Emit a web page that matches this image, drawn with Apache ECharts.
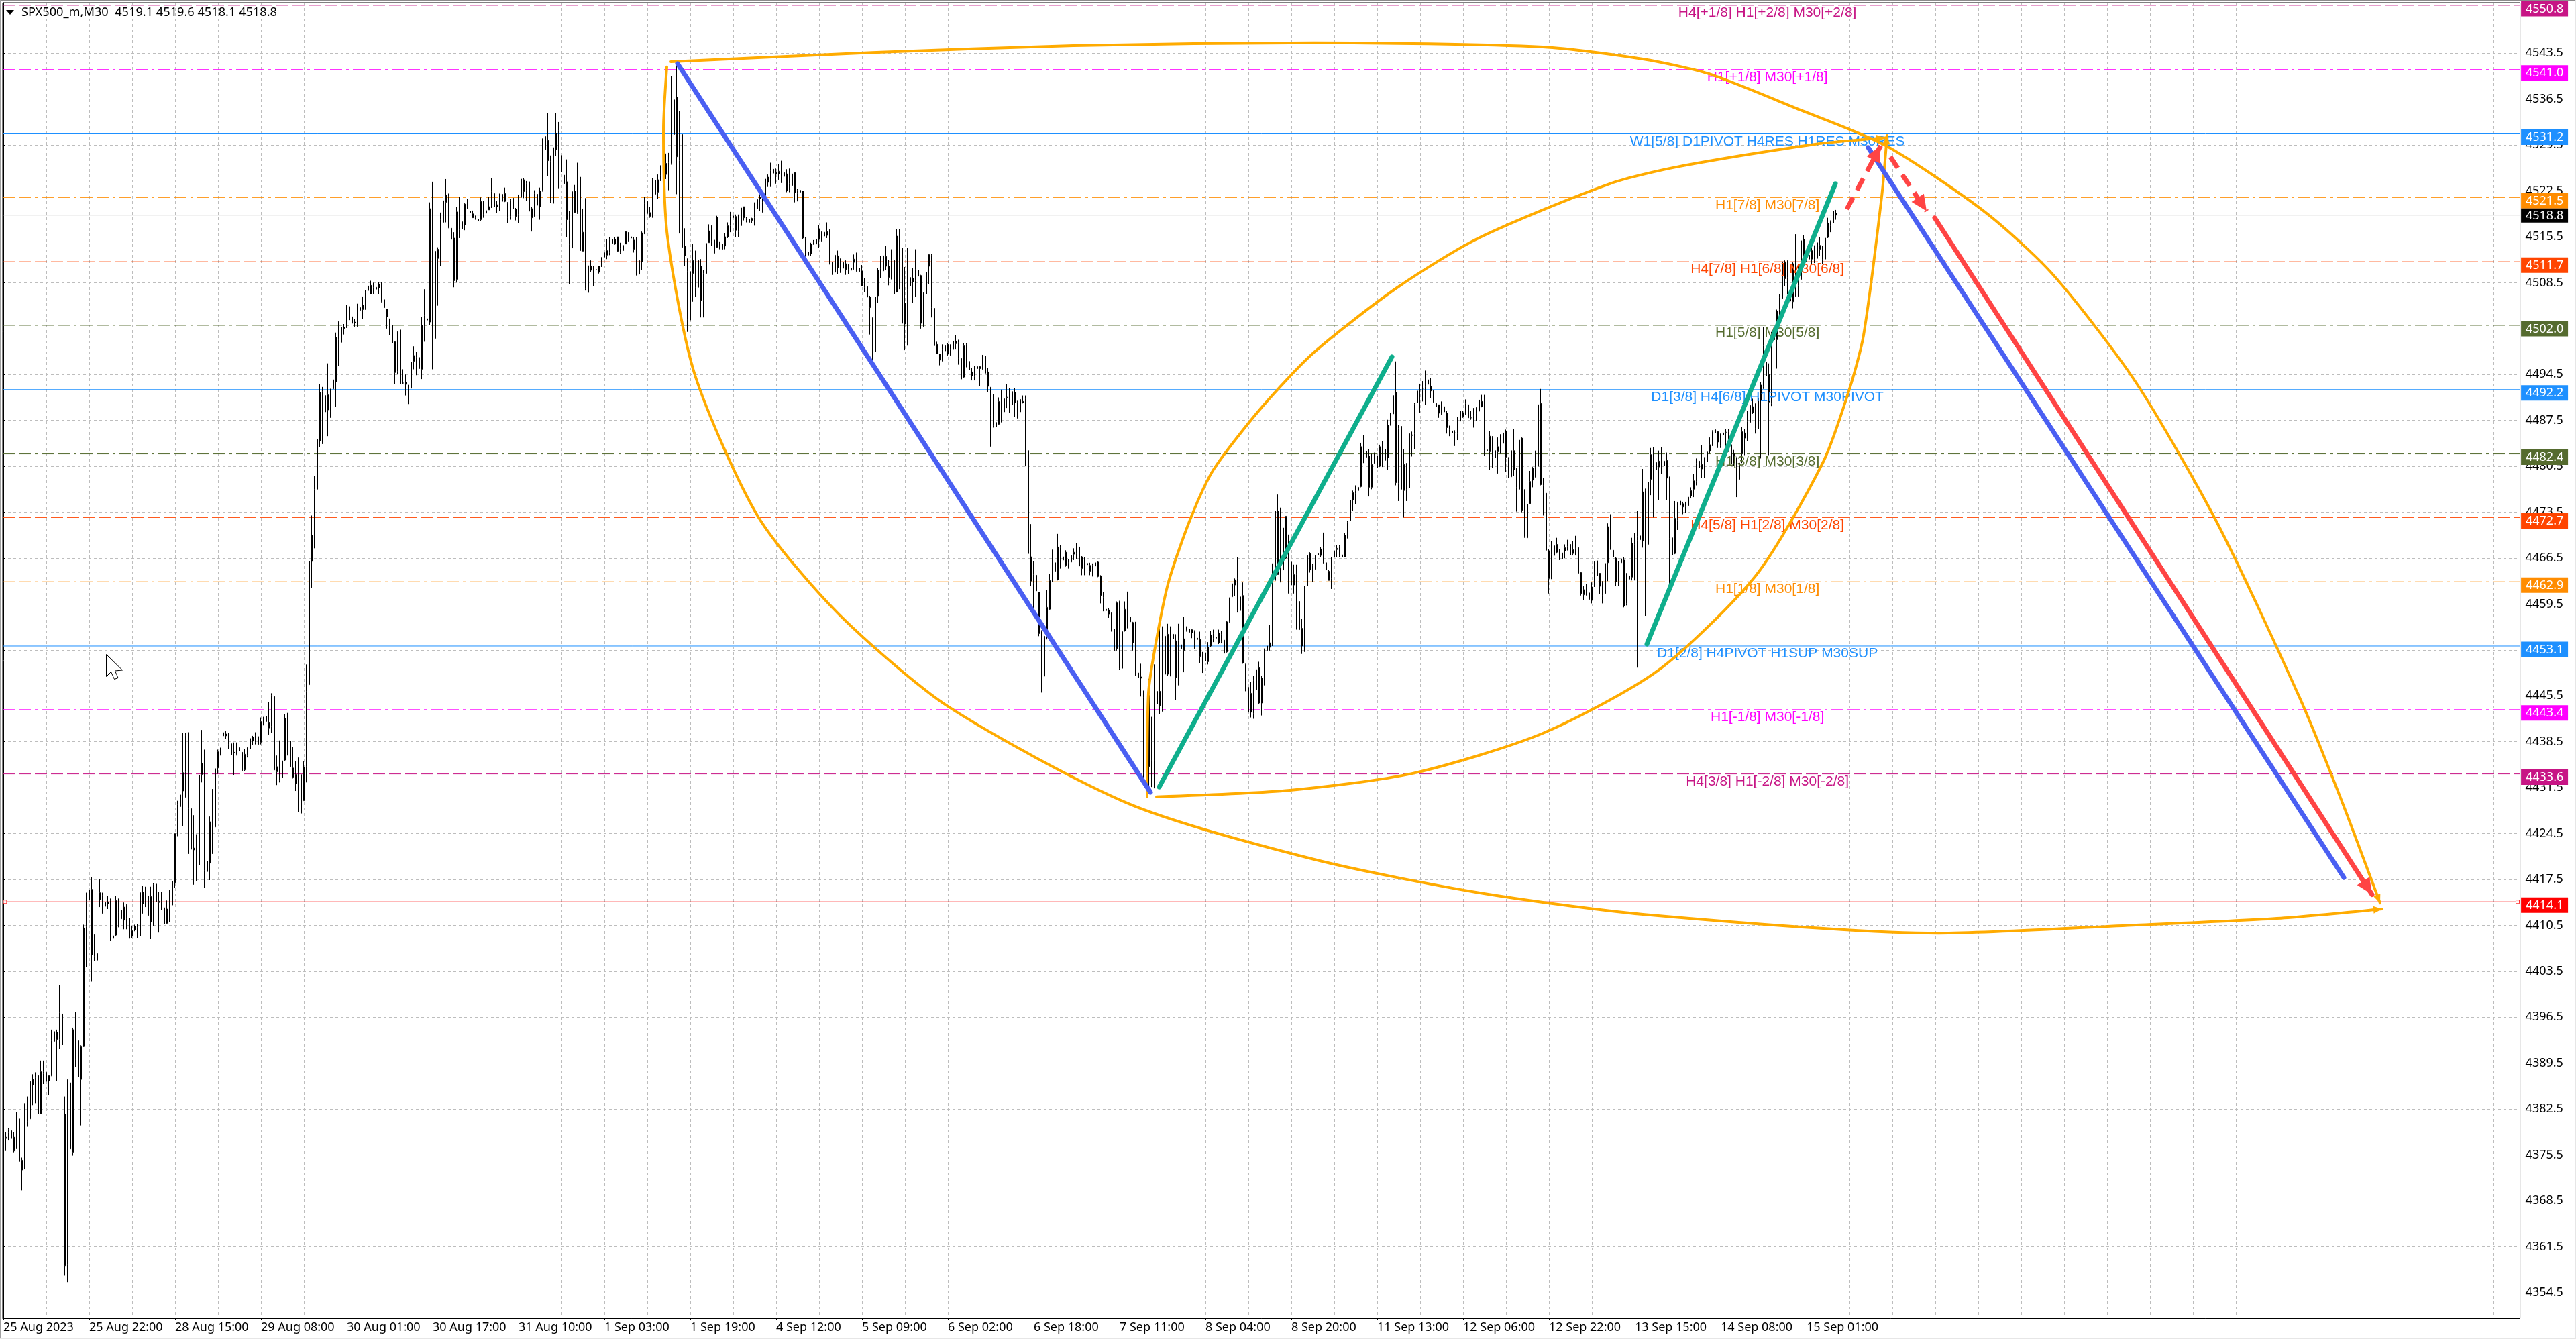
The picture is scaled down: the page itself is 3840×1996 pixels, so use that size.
<!DOCTYPE html>
<html>
<head>
<meta charset="utf-8">
<title>SPX500_m,M30</title>
<script src="https://cdn.jsdelivr.net/npm/echarts@6/dist/echarts.min.js"></script>
<style>
html,body{margin:0;padding:0;background:#fff;overflow:hidden}
#chart{width:3840px;height:1996px}
</style>
</head>
<body>
<div id="chart"></div>
<script>
const headerText = 'SPX500_m,M30  4519.1 4519.6 4518.1 4518.8'

const timeLabels = ['25 Aug 2023','25 Aug 22:00','28 Aug 15:00','29 Aug 08:00','30 Aug 01:00','30 Aug 17:00','31 Aug 10:00','1 Sep 03:00','1 Sep 19:00','4 Sep 12:00','5 Sep 09:00','6 Sep 02:00','6 Sep 18:00','7 Sep 11:00','8 Sep 04:00','8 Sep 20:00','11 Sep 13:00','12 Sep 06:00','12 Sep 22:00','13 Sep 15:00','14 Sep 08:00','15 Sep 01:00']

const priceTicks = [4354.5,4361.5,4368.5,4375.5,4382.5,4389.5,4396.5,4403.5,4410.5,4417.5,4424.5,4431.5,4438.5,4445.5,4452.5,4459.5,4466.5,4473.5,4480.5,4487.5,4494.5,4501.5,4508.5,4515.5,4522.5,4529.5,4536.5,4543.5]

const barOpen = [
4379.5,4378,4378.9,4379.2,4378.2,4376.5,4381,4374.7,4373.4,4382.7,
4381,4387,4386.4,4387.6,4381.8,4387.9,4388.1,4386.8,4387.6,4392.8,
4394.2,4393.1,4397,4381.7,4358.8,4386.5,4375.9,4394.8,4392.9,4387,
4392.1,4410.3,4414.4,4416,4406,4406.2,4414.4,4415.1,4414,4413.8,
4414.3,4408.6,4409,4414.4,4412.8,4411.3,4413.6,4411.6,4408.9,4409.8,
4410.2,4408.9,4415.6,4415.6,4412,4414.9,4410.4,4416.8,4414,4414.2,
4413.2,4410.8,4413,4413.6,4417,4424.6,4428.6,4431,4433.9,4439.7,
4428.3,4422,4422.2,4419.7,4433.5,4435.3,4418.7,4420,4426.5,4425.5,
4434.5,4436.8,4439.4,4439.7,4439.7,4438.2,4436.9,4436.6,4437.6,4436.9,
4434.2,4436.4,4437.4,4439.2,4438.4,4439.3,4438.4,4441.5,4442.4,4441.4,
4440.9,4445.4,4433.9,4434.6,4433,4435.7,4442.4,4438.6,4434.5,4433.5,
4432.4,4427.6,4429.5,4434.7,4447.2,4466,4470,4477,4484.4,4491.9,
4488.8,4491.4,4488.9,4492.3,4493.4,4499.9,4499.4,4501.5,4501.7,4504.5,
4503.3,4502.5,4502.2,4504.7,4504.4,4504.4,4507.3,4508.1,4506.9,4507.5,
4507.7,4508,4505.9,4504.5,4503,4502,4499.5,4495,4501.3,4493.2,
4493.3,4492.9,4492.4,4496.5,4497.1,4497.1,4495.3,4501.8,4502.8,4502.5,
4520,4500,4513.6,4512.3,4517.7,4520.75,4521.7,4516.8,4515.3,4509,
4519.4,4516.7,4517.3,4520.2,4519.4,4519,4518.7,4518.2,4518.1,4520.7,
4519.1,4519.6,4520.3,4522.1,4520.4,4520.3,4520.9,4522.1,4520.6,4518.6,
4521.4,4519.7,4518.9,4521.5,4524.2,4522.6,4523.9,4519.8,4518.6,4522,
4520.1,4522.6,4528.8,4530.2,4527,4520.6,4528.8,4531.7,4527.9,4524.9,
4523.9,4518,4513.8,4522.5,4519.2,4524.6,4513.3,4516.3,4507,4511,
4511,4510.5,4510.1,4511.4,4512.4,4512.7,4513.1,4515.1,4514.4,4515.5,
4513.7,4513.4,4514.4,4516.1,4515.5,4515,4513.5,4509.8,4511.7,4516,
4520.9,4518.6,4518.5,4524.1,4522.3,4524.2,4525,4526.7,4524.8,4526.7,
4531.1,4536.8,4527.1,4531.1,4514.1,4510.2,4502.8,4509.9,4511.9,4507.8,
4511,4505.8,4509.9,4514.6,4517.2,4515,4518.5,4513.8,4514.4,4514.1,
4515.5,4517.2,4518.4,4518.6,4516.3,4517.2,4520.1,4518.3,4517.7,4518.3,
4518.4,4519.8,4521.3,4521.6,4521.3,4524.6,4524.2,4525.8,4525.3,4525.1,
4525.1,4524.7,4525.1,4522.6,4523.3,4525.3,4522.1,4522.3,4522.5,4515.2,
4513.2,4512.9,4514.8,4514.4,4516.7,4515.6,4515.6,4515.7,4516.6,4511.3,
4510.1,4512.6,4510.7,4510.7,4511.4,4510.4,4510.7,4511.6,4512.3,4510.7,
4510.3,4508.3,4507.9,4506.3,4502.2,4498,4506.5,4510.6,4510.3,4512.5,
4511,4509.2,4511.9,4507.1,4515.6,4513.8,4502.2,4505.4,4508,4509.2,
4508.8,4510.4,4509.6,4502.7,4506.8,4511,4512.7,4504.6,4499.1,4497.6,
4496.7,4498.1,4499.1,4497.6,4498.4,4499.6,4499.4,4496.95,4494.1,4499.1,
4496.5,4494.9,4494.2,4495.7,4495.7,4495.3,4497.3,4494.9,4492.5,4488.8,
4486.5,4486.9,4490.2,4488.8,4491,4491.2,4489.9,4491.8,4490.3,4488.8,
4490.4,4490.8,4482.9,4466.7,4462.7,4463.9,4461.3,4455.3,4448.5,4454.6,
4458.7,4463.2,4465.8,4463.2,4468.1,4466.2,4467.4,4465.8,4465.9,4467.1,
4467.2,4468.2,4464.9,4466.5,4465.7,4465.4,4464.7,4465.3,4465.9,4463.8,
4460.5,4458.7,4458.6,4457.8,4455.7,4452.7,4459.9,4449.7,4455.4,4458.9,
4457.5,4456.7,4453.9,4449,4448.2,4445.3,4433.8,4434.7,4438.5,4435.7,
4444.3,4446.2,4443.5,4448.8,4454.9,4448.5,4454.9,4453.9,4452.2,4453.3,
4452.4,4455.5,4455.7,4455.1,4455.3,4454.3,4454.1,4451.7,4452,4450.7,
4453.1,4455,4454.4,4453.6,4454.9,4454,4452.2,4456.8,4460.6,4462.4,
4463.4,4458.5,4460.8,4450.3,4446.8,4443,4442.8,4446.4,4449.8,4444.4,
4448.2,4452.4,4452.9,4453.2,4463.1,4473.7,4463,4471.1,4466.5,4466.7,
4465.9,4462.4,4464,4459.9,4455.8,4453.1,4462.3,4467.2,4465.4,4464.8,
4467,4466.9,4468.1,4465.8,4464.5,4463.4,4466.7,4467.8,4468.3,4467,
4466.7,4470,4472.2,4475.4,4476.4,4476.8,4477.4,4483.7,4482.8,4482.1,
4477.3,4481,4482.1,4480.5,4483.1,4483.1,4481.8,4486.8,4488.5,4491.8,
4477.9,4486.6,4476.8,4480.9,4477.2,4485.3,4485.5,4490.2,4492.1,4492.4,
4492.6,4493.7,4492.7,4492.05,4490.1,4489.9,4488.5,4489.6,4488.6,4486.1,
4485.6,4485.6,4485.5,4487.4,4488.7,4488.4,4489.9,4487.9,4488.2,4488.5,
4488.9,4490.4,4489.9,4483,4482.7,4484.9,4481.8,4482.7,4483.1,4484,
4485.9,4481.6,4478.9,4482.9,4479.8,4477,4484.8,4473.7,4469.6,4474.8,
4478.4,4480.1,4480.5,4490.1,4477.6,4476.4,4467.6,4463.5,4466.9,4468.6,
4467.6,4466.4,4467.6,4467.7,4468.6,4467.2,4468.1,4468.1,4464.3,4460.9,
4461.3,4461.2,4460.1,4462.2,4466.1,4464.2,4461.9,4461.1,4465.8,4471.6,
4467.7,4466.5,4463,4465.8,4466.2,4459.6,4463.8,4463.6,4468.6,4469.8,
4469.3,4469.1,4476.8,4468.6,4478.5,4482.4,4480,4481.3,4480.4,4480.6,
4481.4,4478.9,4469.6,4467.2,4472.3,4475.2,4474.8,4474.7,4474.5,4476,
4477,4478.2,4481.3,4480.1,4480.6,4481.2,4482.8,4483.7,4485.6,4485.8,
4483.6,4485.6,4485.7,4485.8,4483.8,4482.4,4480.9,4478.5,4482.4,4485.6,
4484.6,4487.2,4489.6,4488.8,4486.2,4490.6,4492.6,4496.4,4494.5,4490.1,
4501,4499.8,4504.4,4506.1,4511.6,4509.3,4506.9,4505.6,4509.8,4508.1,
4509,4515.1,4512.6,4512.7,4512.1,4513.5,4512.2,4514.2,4513.8,4512.1,
4515.4,4517.8,4517.6,4519.1]

const barHigh = [
4379.5,4379,4379.6,4380,4379,4382.1,4381.6,4375.1,4383.4,4384.4,
4388.9,4387.8,4388.1,4387.8,4389.9,4389.9,4389.6,4387.6,4394.6,4396.7,
4394.6,4401.4,4418.5,4384.4,4387,4393.9,4394.9,4397.3,4397.4,4392.2,
4410.6,4415.5,4419.3,4417.9,4409.1,4406.8,4417.6,4415.5,4414.9,4415,
4414.6,4411.3,4415,4414.6,4412.9,4414,4413.7,4412,4410.4,4410.6,
4410.7,4415.6,4416.5,4416.4,4416.4,4416.4,4416.9,4417,4415.6,4415.6,
4414.6,4414.3,4415.9,4417.4,4424.5,4429.5,4431.4,4439.8,4439.8,4439.95,
4428.4,4427.3,4424.4,4433.8,4440.3,4437.3,4421.7,4427.1,4431.3,4441.6,
4437.3,4437.6,4440.9,4440.1,4439.8,4438.4,4438.4,4438.4,4438.5,4440.1,
4437.4,4437.7,4439.4,4439.4,4439.95,4439.4,4442.2,4442.3,4443.7,4444.6,
4445.9,4448,4436.4,4438.7,4437.1,4442.7,4442.9,4439.95,4437.7,4435.5,
4436.1,4435,4435.5,4450.3,4467,4473,4479,4487.8,4493,4492.6,
4492.8,4496.2,4492.3,4497,4500.9,4502.6,4503.1,4502.2,4505.1,4504.9,
4504.1,4503,4505.3,4504.9,4506.4,4507.4,4509.8,4508.8,4508.5,4508.5,
4508.6,4508.6,4507.3,4504.5,4503,4502.1,4499.6,4501.1,4501.4,4495.3,
4494.5,4492.9,4496.4,4498.8,4498,4497.9,4503.3,4507.5,4505,4520.75,
4523.9,4514.2,4513.9,4519.2,4522.2,4524.3,4522.1,4521.5,4516.2,4520.1,
4521.6,4519.4,4520.6,4521.3,4519.7,4519.5,4518.7,4518.5,4521.5,4521,
4520.4,4521.6,4524.4,4523.1,4521,4522.1,4522.8,4523,4520.8,4521.3,
4521.9,4519.9,4521.9,4525.1,4524.4,4524,4524,4520.1,4522.6,4522.5,
4523,4530.5,4532.5,4534.4,4527.9,4531.1,4534.4,4533,4528.9,4525.9,
4527.3,4519.4,4522.6,4523.4,4526.8,4525,4519.8,4521.4,4512.5,4511.9,
4511.1,4510.8,4511.1,4512.4,4514,4515.1,4515.5,4515.5,4515.5,4515.5,
4514.6,4514.3,4516.4,4516.2,4515.9,4515.5,4515.4,4512.7,4516.3,4521.6,
4521,4520,4524.5,4524.8,4525,4526.4,4528,4528.2,4528.3,4539.95,
4541.2,4542,4534.7,4531.2,4516.8,4512.2,4512.2,4514.4,4513.4,4512.1,
4512.1,4510.4,4514.6,4517.4,4517.3,4515.3,4518.7,4514.8,4515,4516.1,
4517.7,4519.3,4519.9,4518.9,4518.9,4520.1,4520.1,4518.5,4518.4,4518.4,
4520.75,4521.3,4522,4522,4524.5,4525,4526.8,4526.1,4525.9,4526.6,
4527.1,4525.9,4525.8,4525.9,4527.1,4525.3,4522.8,4522.8,4522.5,4515.5,
4515.5,4514.6,4515,4516.3,4517.3,4516.3,4516.4,4517.7,4516.7,4511.7,
4512.7,4513.4,4512.2,4512.2,4511.9,4511.3,4511.7,4512.8,4513.1,4512.1,
4511.2,4509.2,4508.1,4506.5,4503.2,4507.3,4510.7,4512.6,4513.1,4514.1,
4512,4513.6,4513.6,4516.7,4516.7,4515.8,4510.9,4513.8,4517.2,4510.7,
4513.6,4513.2,4509.7,4507,4511,4512.9,4512.9,4504.7,4499.5,4497.7,
4499.1,4499.3,4499.3,4499.1,4501,4500.5,4499.8,4497.6,4499.3,4499.3,
4496.6,4495.5,4495.8,4497.5,4495.8,4497.5,4497.7,4495.5,4492.6,4491.5,
4492.3,4491,4492.2,4492,4493,4492.4,4492.4,4492.4,4490.5,4491.1,
4491.3,4491.3,4483,4471.7,4466,4466.1,4461.3,4455.5,4457.7,4461.6,
4464.1,4467.8,4468,4470.2,4468.5,4467,4467.7,4466.4,4467.2,4468,
4468.8,4468.3,4466.8,4466.6,4465.8,4465.8,4465.7,4466.7,4466,4463.9,
4461.3,4458.8,4458.9,4458.2,4459.5,4459.9,4460,4457.5,4459.9,4461.4,
4458.9,4456.8,4456.8,4450.5,4450.4,4446.3,4450,4448.1,4442.3,4450.3,
4450.5,4456.1,4456.1,4456.1,4456.5,4456.1,4457.6,4454.9,4456.5,4458.7,
4457.5,4456.1,4455.7,4455.7,4455.5,4455.5,4455.3,4452.2,4452,4453.7,
4455.4,4455.6,4454.9,4455.6,4455.4,4454.1,4456.9,4460.5,4464.7,4463.4,
4466.6,4461.6,4462.8,4450.4,4447.3,4447.6,4448.5,4450.2,4450.7,4448.5,
4452.7,4457.9,4456.3,4465.7,4474.2,4476.2,4474.2,4474.2,4472.9,4470.1,
4466.2,4465.5,4465.5,4461.6,4457.2,4462.3,4467.5,4467.4,4465.6,4466.9,
4467.3,4468.2,4470.4,4465.9,4464.7,4466.7,4468.1,4468.5,4468.5,4468.4,
4470.3,4472.2,4475.8,4476.8,4477.6,4478.9,4484.1,4485.3,4483.6,4483.1,
4482.4,4482.6,4482.5,4483.8,4484.4,4485.8,4487.6,4488.7,4492,4496.5,
4486.8,4486.8,4483.1,4481,4486,4485.8,4490.2,4493.2,4493.1,4493.5,
4495.1,4494.4,4494,4492.1,4490.4,4489.9,4490.4,4489.7,4489,4486.7,
4488.5,4486,4488,4489,4489,4490.7,4490.9,4488.9,4489.4,4489.5,
4491.4,4491.4,4491.4,4486.7,4485.9,4485.1,4483.8,4484.9,4485.4,4486.4,
4486.1,4481.9,4483.7,4486.2,4480.2,4486.2,4484.9,4477,4475.2,4479.8,
4480.4,4482.9,4492.8,4492.3,4478.7,4477.3,4467.9,4469.1,4469.9,4469.6,
4467.9,4467.7,4468.6,4469.3,4469.3,4469.1,4469.9,4468.2,4464.4,4462.2,
4462.6,4461.8,4462.8,4466,4466.5,4464.2,4463,4465.8,4471.8,4473.2,
4469.8,4466.7,4466,4467.2,4466.6,4464.2,4467.4,4469.6,4470.3,4473.7,
4471.8,4480.1,4477.1,4479.8,4483.3,4483.4,4482.9,4482.9,4483.4,4484.6,
4482.6,4478.9,4472.7,4475.2,4475.1,4476.3,4475.1,4475.1,4476.6,4477.3,
4479.3,4481.7,4481.9,4483.7,4481.9,4483.8,4484.9,4486,4486.2,4485.9,
4485.5,4488,4486.2,4486.2,4484.1,4483,4481.9,4484.1,4486.5,4486.2,
4489,4490.8,4490.8,4490.1,4492.1,4493.3,4501.7,4499,4496.2,4501,
4504.6,4504.4,4506.7,4512.1,4511.9,4511.9,4511.4,4511.6,4515.9,4511,
4514.9,4515.8,4513.4,4514.1,4514,4514.2,4514.8,4515.5,4514.1,4515.5,
4518.4,4518,4520.3,4519.6]

const barLow = [
4376.9,4376.1,4377.7,4377.4,4375.9,4376.4,4374.3,4370.1,4373.3,4379.8,
4381,4383.1,4383.4,4380.5,4381.8,4386.3,4386.3,4384.6,4387.5,4392.5,
4386.8,4391.7,4383.9,4357.1,4356.1,4373.3,4375.4,4388.9,4382.5,4380,
4392,4404.2,4409.6,4401.9,4405.1,4405.1,4413.3,4412.3,4413,4413,
4408.1,4407.1,4408.9,4410.2,4410.1,4409.9,4409.9,4408.4,4408.6,4409.6,
4408.6,4408.9,4412.3,4413.3,4411.2,4408.4,4410.4,4412.8,4409.4,4412.8,
4409.1,4410.7,4411,4413.6,4416.2,4424.1,4428,4425.6,4430,4421.4,
4419.6,4416.7,4417.3,4417.6,4432.3,4416.2,4416.4,4417.4,4421.4,4424.1,
4433.6,4436.4,4438.9,4438.9,4437.4,4436.4,4433.4,4436.4,4435.9,4433.9,
4434,4436.1,4436.9,4438,4438.1,4437.9,4438.1,4441,4440.8,4439.6,
4439.8,4433.1,4431.9,4432.3,4431.5,4435.6,4436.4,4434.6,4432.9,4431,
4427.8,4427.3,4429.5,4432.3,4446.5,4462,4468,4476,4483.4,4483.9,
4487.4,4485.1,4487.9,4491,4489.6,4495.8,4499,4500.6,4501.6,4502.8,
4502.2,4501.8,4501.8,4502.7,4503,4504.4,4507.1,4506.7,4506.8,4507.1,
4506.8,4505.5,4504.4,4501.5,4500.5,4498.2,4493,4494.5,4493,4493.1,
4491.3,4490,4492.3,4495.3,4494.4,4495,4493.8,4499.5,4499.8,4502,
4495.3,4500,4505,4511,4515.2,4517.7,4516.8,4511,4507.8,4508.5,
4515.3,4513.3,4516.5,4519.8,4518.6,4518.4,4518.1,4517.3,4517.9,4518.4,
4518.4,4519.6,4519.9,4520,4519.1,4519.4,4520.9,4520.8,4517.6,4518.1,
4519.8,4518,4517.6,4521.4,4521.4,4521,4516.8,4516.3,4518.5,4519.4,
4518.1,4522.4,4527.1,4524.8,4520.7,4518.4,4527.8,4522.9,4520.4,4519.2,
4515.5,4508.3,4512.2,4519.1,4519,4512.6,4513.3,4507.3,4507,4510.1,
4508,4509,4509.9,4510.9,4511,4512.1,4512.7,4511.9,4514.3,4513.2,
4512.9,4512.8,4514.4,4514.8,4514.6,4513.1,4509.6,4507.4,4510.4,4515.9,
4518.9,4518.4,4518.4,4521.3,4521.3,4524,4524.5,4524.3,4522.6,4526.5,
4526.4,4522,4516,4511,4511.1,4501,4501,4505.6,4506.3,4506.8,
4503.2,4503.2,4509,4514.6,4514.1,4512.7,4513.8,4513.6,4513.4,4513.6,
4515.3,4516.2,4517.9,4515.5,4515.5,4517.2,4518,4517.7,4517.6,4517.6,
4517.2,4518.4,4519.4,4519.2,4520.8,4523.1,4523.1,4523.5,4523.6,4524.2,
4523.7,4523.7,4522.3,4522.3,4523.1,4520.75,4520.9,4522,4515.1,4511.7,
4511.9,4512.6,4514.3,4513.9,4513.8,4514.8,4515.3,4515.3,4511.3,4509.7,
4509.2,4509.8,4510,4509.6,4509.7,4509.8,4509.8,4510.5,4510.2,4509.3,
4508,4507.1,4506,4500.6,4496.5,4497.9,4505.4,4509.2,4509.3,4510.4,
4508.1,4509,4503.8,4507,4507.5,4500.5,4498.2,4498.9,4505.4,4505.4,
4506.3,4508.3,4501.5,4501.8,4506.6,4508.3,4503.2,4498.8,4497.6,4495.9,
4496.5,4497.9,4497.4,4497.4,4498.3,4498.4,4496,4493.6,4494,4495.6,
4495.1,4493.6,4493.6,4494.8,4492.7,4495.2,4494.4,4491.8,4483.5,4486.4,
4486.2,4486.8,4487.2,4488,4489.4,4488.7,4487.8,4488,4487.8,4484.8,
4490.1,4480.5,4466.6,4462.2,4457.8,4458.6,4454.6,4446,4444,4454.1,
4458.6,4462.9,4459.5,4463.1,4464.9,4466.1,4465.2,4464.9,4465.8,4466.2,
4466.4,4464.9,4463.9,4463.9,4464.5,4463.9,4463.7,4465.2,4463.6,4459.6,
4458.4,4457.4,4457.4,4455.3,4451,4452.4,4449.5,4449.3,4455.3,4455.8,
4456.5,4452.4,4448.6,4448.1,4445.4,4431.9,4431,4431.8,4431.6,4431.4,
4444.2,4442.7,4443.1,4447.3,4448.5,4448.5,4448.5,4444.9,4447.1,4449.3,
4449.1,4455.3,4454.3,4454.3,4452.7,4453.4,4450.5,4449,4448.6,4450.3,
4452.9,4453.7,4453.6,4453.4,4453.5,4451.9,4452.1,4456.7,4459.4,4460.7,
4458.2,4458.4,4450.4,4446.2,4440.8,4442.2,4442,4445,4444.2,4442.5,
4447.1,4452.4,4452.4,4453.1,4462.8,4464,4462.8,4463.6,4466.4,4461.1,
4460.2,4461.1,4455.6,4452.7,4451.9,4452.2,4461.9,4464.3,4462.9,4464.7,
4466.7,4466.7,4465.7,4463.1,4463.1,4461.8,4464.5,4466.7,4466.7,4466.1,
4466.6,4469.5,4471.8,4473.7,4474.7,4476.3,4477.3,4481,4480,4475.9,
4477,4480.9,4478.1,4480.4,4480.4,4480.4,4480,4486.7,4488,4477.6,
4475.2,4475.4,4472.7,4475.2,4476.6,4482,4483.1,4488.7,4488.7,4490.4,
4489.9,4488.2,4490.9,4490.2,4488.5,4487.9,4488.4,4488.1,4485.5,4485.1,
4484.5,4483.6,4484.5,4486.9,4487.9,4488.3,4487.7,4487.6,4486.4,4487.4,
4487.9,4489.5,4482.1,4481,4480,4480.3,4480.4,4479.4,4482.4,4481,
4479.6,4478.7,4478.4,4479,4473.6,4475.6,4473.5,4469.6,4468.2,4474.7,
4477.3,4478.8,4478.7,4477.6,4473,4466.5,4461.1,4463.3,4466.9,4467.2,
4466.2,4466.4,4466.5,4467.7,4466.9,4466.9,4466.9,4462.8,4460.8,4460.1,
4460.8,4460.1,4459.6,4462.1,4463.8,4461,4459.6,4459.6,4463,4467.8,
4465.7,4462.2,4462.3,4462.8,4459,4459.3,4459.4,4463.1,4463.1,4449.8,
4462.8,4468.1,4457.7,4467.7,4476.1,4472.7,4474.6,4475.4,4479.3,4479.7,
4475.4,4462.6,4460.6,4467.1,4470.8,4473.5,4473.2,4473.4,4473.7,4475.6,
4475.8,4477.6,4478.8,4478.7,4478.7,4481,4482.4,4483.6,4485.5,4483.3,
4483.3,4483.8,4483.4,4482.7,4479.7,4480.6,4475.8,4478.3,4481,4482.2,
4484.4,4486.8,4488.5,4485.5,4486,4481.7,4492.3,4485.6,4482.2,4489.7,
4495.4,4495.4,4503,4505.9,4508,4506.7,4505.1,4504.6,4506.4,4506.4,
4507.6,4511.7,4511.7,4511.5,4511.4,4511.5,4511.7,4512.6,4511.4,4511.5,
4515.3,4516.2,4517.1,4518.1]

const barClose = [
4377.5,4378.2,4379.4,4378,4376.1,4380.5,4374.5,4373.2,4382.7,4380.6,
4386.7,4386.2,4387.3,4381.8,4388.2,4388.2,4386.7,4387.6,4392.9,4394.3,
4393.1,4397.2,4392.3,4358.6,4386.3,4376.4,4394.6,4390,4387.4,4392.1,
4410.1,4414.2,4415.9,4406,4405.8,4405.2,4415.5,4413.8,4413.4,4414.1,
4408.6,4408.9,4414.3,4412.4,4411.5,4413.3,4411.5,4408.6,4409.7,4410.4,
4408.9,4415.5,4413.8,4413.8,4415,4411,4416.7,4414.1,4414.2,4413,
4410.7,4413,4414.4,4417.2,4424.5,4428.9,4430.4,4433.8,4439.4,4428.3,
4422.1,4422.3,4419.7,4433.4,4435.2,4418.9,4420.3,4426.3,4425.6,4434.4,
4437,4437.4,4439.9,4439.4,4438.1,4436.5,4436.8,4437.4,4437.1,4434.1,
4436.6,4437.6,4439,4438.6,4439.4,4438.1,4441.6,4442.1,4441.6,4440.6,
4445.6,4434.2,4434.7,4432.6,4435.6,4442.1,4438.6,4434.7,4433.1,4432.1,
4427.8,4433.5,4434.6,4446.2,4466,4470,4477,4484.6,4491.8,4488.8,
4491.3,4489.1,4492.3,4493.7,4500.2,4499.8,4501.7,4501.7,4504.8,4503,
4502.3,4502.4,4504.5,4504.3,4505.1,4507,4508,4506.8,4507.8,4507.8,
4508.3,4505.6,4504.7,4503.3,4501.9,4499.3,4494.8,4501,4493.1,4493.2,
4493,4492.3,4496.4,4497.4,4497.6,4495.4,4502,4503.5,4503,4519.8,
4500.05,4513.3,4512.2,4518.1,4521,4521.9,4516.9,4515.1,4508.8,4519.3,
4516.6,4517.8,4520.5,4521,4519.2,4518.4,4518.4,4517.9,4520.9,4518.9,
4519.5,4520.1,4522.4,4520.1,4520.1,4521,4522,4520.9,4518.4,4521.1,
4519.8,4518.6,4521.9,4524.3,4522.4,4523.6,4519.4,4518.4,4522.1,4520.3,
4522.5,4528.7,4530.8,4527.1,4520.9,4529.1,4531.3,4528.1,4525.4,4523.6,
4518.1,4514.3,4522.4,4519.2,4524.4,4513.4,4516.2,4507.6,4511.1,4510.4,
4510.1,4510.5,4511,4512,4513.1,4513.4,4515,4514.5,4515.1,4513.3,
4513.1,4514.2,4516.3,4515.5,4515.3,4513.6,4509.8,4511.9,4516.1,4520.6,
4519.05,4519.2,4524.2,4522,4524.2,4524.9,4526.7,4525,4526.8,4536.2,
4536.4,4527.7,4531.4,4513.9,4512.6,4502.9,4510.2,4511.9,4507.8,4511.9,
4505.8,4509.9,4514.5,4516.4,4514.8,4513,4513.9,4514.1,4513.6,4515.5,
4517.2,4518.6,4518.7,4516.5,4517.9,4519.9,4518.4,4518,4518.2,4518,
4519.7,4521.2,4521.6,4520.8,4524.3,4523.8,4525.6,4525.2,4525.1,4525.5,
4524.7,4525.3,4522.5,4523.6,4525.1,4522.2,4522.6,4522.6,4515.3,4511.9,
4512.7,4514.4,4514.6,4515.1,4515.1,4515.1,4516.2,4516.3,4511.3,4509.8,
4512.7,4510.8,4511.7,4511.6,4510.5,4510.5,4510.4,4512.1,4510.3,4510.2,
4508,4507.8,4506.3,4504.7,4498,4506.3,4510.4,4510.1,4512.6,4511,
4509.3,4511.9,4506.8,4515.6,4508,4502.3,4505.4,4507.5,4509.3,4508.6,
4510.5,4509.5,4502.3,4506.6,4510.1,4512.8,4504.7,4498.9,4497.7,4496.7,
4498.4,4498.9,4497.6,4498.4,4499.6,4499.2,4496.9,4493.8,4498.9,4496.75,
4495.2,4494.3,4495.5,4495.4,4495.4,4497.4,4494.7,4492.7,4488.2,4486.7,
4487.2,4490.4,4488.8,4490.8,4491.05,4490.2,4491.9,4490.2,4488.8,4490.7,
4490.2,4485.3,4467.2,4463,4464,4461.5,4455,4448.5,4454.6,4459,
4463.1,4465.6,4464.5,4468.2,4466,4466.7,4465.4,4465.7,4466.9,4467.4,
4467.9,4465.3,4466.7,4465.6,4465.5,4464.5,4465.4,4465.8,4463.7,4460.8,
4458.9,4458.5,4457.9,4455.7,4452.4,4459.7,4449.7,4455.3,4458.7,4457.2,
4456.8,4453.6,4448.8,4448.3,4448.4,4433.8,4443,4445.6,4435.7,4444.2,
4446.2,4444,4453.8,4454.6,4448.8,4455.1,4454.2,4448.3,4454,4452.7,
4454.2,4455.7,4455.2,4455.6,4452.7,4454.1,4451.5,4452,4450.8,4452.9,
4454.8,4454.3,4454.3,4455.1,4453.8,4452,4456.8,4460.4,4462.6,4463.2,
4458.5,4460.6,4450.5,4446.4,4443,4445.9,4447.8,4449.5,4444.4,4448.2,
4452.7,4453.1,4453.6,4463.3,4473.7,4464,4471,4464.7,4472.9,4466,
4462.4,4464,4460.1,4455.6,4453.1,4462.1,4466.9,4464.7,4464.7,4466.9,
4467.2,4467.9,4465.9,4464.7,4463.1,4466.5,4467.6,4468,4466.9,4466.7,
4470,4472,4475.3,4476.5,4476.8,4477.3,4483.5,4482.5,4481.9,4477.3,
4480.8,4482.4,4480.3,4483.5,4482.8,4481.4,4486.8,4488,4491.3,4478,
4486.3,4477,4480.8,4477,4485.5,4485.2,4490,4492,4492.2,4492.4,
4494,4493,4492,4490.3,4489.6,4488.6,4489.9,4488.8,4486.4,4485.9,
4485.9,4485.6,4487.7,4488.9,4488.1,4490.1,4487.9,4487.9,4488.1,4488.9,
4490.6,4489.6,4482.9,4482.9,4485.1,4481.9,4482.9,4483.5,4484.2,4485.6,
4481.9,4479.1,4482.9,4480,4477.3,4484.5,4473.8,4469.8,4474.7,4478.2,
4480.2,4480.4,4489.9,4477.7,4476.3,4467.7,4463.4,4467.1,4468.4,4467.4,
4466.5,4467.3,4468.1,4468.3,4467,4467.8,4468,4464.2,4461.1,4461.7,
4461,4460.2,4462.1,4465.9,4463.8,4462.2,4460.8,4465.7,4471.3,4467.8,
4466.7,4462.9,4465.6,4466.4,4459.2,4464.2,4463.3,4468.8,4466.7,4469.2,
4469.9,4476.6,4468.2,4478.1,4482.3,4479.9,4481.1,4480.4,4480.3,4481.3,
4478.7,4469.5,4467,4472.6,4474.9,4474.6,4474.3,4474.3,4475.8,4476.8,
4478.3,4481,4480.3,4480.8,4481.2,4482.7,4483.8,4485.8,4486.1,4484.2,
4485.3,4485.3,4485.7,4483.1,4480.9,4481,4478.7,4481,4485.8,4484.8,
4487.3,4489.8,4488.7,4486.3,4490.9,4492.9,4498.9,4494.3,4490.3,4499.6,
4499.8,4504.2,4506.2,4511.7,4509.1,4506.8,4505.7,4511.4,4511.1,4509,
4514.9,4511.9,4512,4512.1,4513.4,4512.1,4514.6,4513.6,4512.1,4515.3,
4517.6,4517.2,4519.4,4518.8]

// murrey levels, top to bottom
const levelPrices = [4550.8,4541.0,4531.2,4521.5,4511.7,4502.0,4492.2,4482.4,4472.7,4462.9,4453.1,4443.4,4433.6]
const levelNames = ['H4[+1/8] H1[+2/8] M30[+2/8]','H1[+1/8] M30[+1/8]','W1[5/8] D1PIVOT H4RES H1RES M30RES','H1[7/8] M30[7/8]','H4[7/8] H1[6/8] M30[6/8]','H1[5/8] M30[5/8]','D1[3/8] H4[6/8] H1PIVOT M30PIVOT','H1[3/8] M30[3/8]','H4[5/8] H1[2/8] M30[2/8]','H1[1/8] M30[1/8]','D1[2/8] H4PIVOT H1SUP M30SUP','H1[-1/8] M30[-1/8]','H4[3/8] H1[-2/8] M30[-2/8]']
const levelColors = ['#C71585','#FF00FF','#1E90FF','#FF8C00','#FF4500','#556B2F','#1E90FF','#556B2F','#FF4500','#FF8C00','#1E90FF','#FF00FF','#C71585']
const levelStyles = ['dash','dot','solid','dot','dash','dot','solid','dot','dash','dot','solid','dot','dash']
const targetLevel = 4414.1
const lastPrice = 4518.8

// drawn objects as [bar, price]
const blueDown1 = [[251.25,4541.9],[427.5,4430.8]]
const blueDown2 = [[695,4529.1],[872.25,4417.8]]
const greenUp1 = [[430.75,4431.6],[517.5,4497.2]]
const greenUp2 = [[612.5,4453.4],[682.75,4523.6]]
const redSolid = [[719.75,4518.4],[882.75,4415.2]]
const redDash1 = [[687,4519.7],[699.65,4529.4]]
const redDash2 = [[703.25,4527.7],[716.75,4519.4]]

const arcTop = [[248.75,4542.2],[323.75,4543.6],[398.75,4544.65],[488.5,4545.1],[573.75,4544.45],[611,4542.61],[635.5,4540.36],[667.5,4535.2],[701.5,4529.4],[738.75,4519.2],[764,4509.67],[794.75,4493.3],[825.25,4471.72],[855.75,4445.23],[871.25,4429.68],[885.75,4413.9]]
const arcInnerLow = [[429.75,4430.1],[479.5,4431.1],[525.5,4433.7],[573.75,4439.8],[616.75,4449.4],[653,4463.8],[678,4481],[688,4492.3],[693.25,4500.5],[700,4521.6],[702,4530.95]]
const arcInnerHigh = [[426.25,4430.1],[426.75,4445.9],[429.75,4454.1],[434.25,4462.9],[442.5,4472.6],[451,4480],[468.75,4489.4],[488.5,4497.9],[519.25,4507.7],[549.75,4515.3],[598.75,4523.6],[624.25,4526.2],[674.75,4529.6],[701.25,4530.6]]
const arcBottom = [[247.25,4541.4],[246,4531.85],[247.5,4515.5],[257.75,4494.4],[281.25,4472.85],[311.25,4458],[352,4443.9],[419.75,4429],[488.5,4420.57],[548.75,4415.56],[611,4412.18],[721.25,4409.3],[794.75,4410.55],[848.75,4411.6],[886.5,4413]]

// arrow heads as [tip bar, tip price, back bar, back price]
const redHeads = [[882.75,4415.2,719.75,4518.4],[699.65,4529.4,687,4519.7],[716.75,4519.4,703.25,4527.7]]
const orangeHeads = [[885.75,4413.9,871.25,4428.9],[702,4530.95,700,4521.6],[701.25,4530.6,674.75,4529.6],[886.5,4413,848.75,4411.6]]

const targetMarks = [[0.6,4414.1],[937,4414.1]]

const xMin = -0.25
const xMax = 937.9
const yMin = 4350.6
const yMax = 4551.2
const labelFont = 'Noto Sans'

var candles = barOpen.map((o,i) => [i,o,barClose[i],barLow[i],barHigh[i]])

var gridBars = []
for(let b=16;b<=928;b+=16) gridBars.push(b)
var labelBars = timeLabels.map((t,i) => i*32)

function straight(data,color,dash){
    return {
        type:'line',data:data,symbol:'none',z:5,silent:true,animation:false,
        lineStyle:{color:color,width:7,cap:dash?'butt':'round',type:dash?[20,12]:'solid'}
    }
}
function arc(data){
    return {
        type:'line',data:data,symbol:'none',smooth:0.25,z:5,silent:true,animation:false,
        lineStyle:{color:'#FFAB00',width:4,cap:'round'}
    }
}
function heads(data,color,len,wid){
    return {
        type:'custom',data:data,z:6,silent:true,animation:false,
        encode:{x:0,y:1},
        renderItem(params,api){
            let tip=api.coord([api.value(0),api.value(1)])
            let back=api.coord([api.value(2),api.value(3)])
            let dx=tip[0]-back[0],dy=tip[1]-back[1]
            let d=Math.sqrt(dx*dx+dy*dy)
            dx/=d;dy/=d
            let bx=tip[0]-dx*len,by=tip[1]-dy*len
            return {
                type:'polygon',
                shape:{points:[tip,[bx-dy*wid/2,by+dx*wid/2],[bx+dy*wid/2,by-dx*wid/2]]},
                style:{fill:color}
            }
        }
    }
}
function dashOf(style){
    if(style==='dash') return [18,6]
    if(style==='dot') return [18,6,18,6,4,6]
    return 'solid'
}

var levelSeries = levelPrices.map((p,i) => ({
    type:'line',data:[[xMin,p],[xMax,p]],symbol:'none',z:2,silent:true,animation:false,
    lineStyle:{color:levelColors[i],width:1,type:dashOf(levelStyles[i])}
}))

var option = {
    animation:false,
    backgroundColor:'#fff',
    title:{
        text:headerText,left:32,top:10,padding:0,
        textStyle:{fontFamily:labelFont,fontSize:18.2,fontWeight:'normal',color:'#000'}
    },
    grid:{left:4,top:4,width:3752.6,height:1961,show:true,borderColor:'#000',borderWidth:1,backgroundColor:'#fff'},
    xAxis:[{
        type:'value',min:xMin,max:xMax,position:'bottom',
        axisLine:{show:false},axisLabel:{show:false},
        axisTick:{show:false,customValues:gridBars},
        splitLine:{show:true,lineStyle:{color:'#bdbdbd',type:[4,4],width:1}}
    },{
        type:'value',min:xMin,max:xMax,position:'bottom',
        axisLine:{show:true,lineStyle:{color:'#000'}},
        axisTick:{show:true,length:3,inside:false,customValues:labelBars,lineStyle:{color:'#000'}},
        axisLabel:{
            show:true,customValues:labelBars,margin:5,align:'left',hideOverlap:false,
            fontFamily:labelFont,fontSize:18,color:'#000',
            formatter:function(v){return timeLabels[Math.round(v/32)]}
        },
        splitLine:{show:false}
    }],
    yAxis:{
        type:'value',min:yMin,max:yMax,position:'right',
        axisLine:{show:true,lineStyle:{color:'#000'}},
        axisTick:{show:true,length:3,customValues:priceTicks,lineStyle:{color:'#000'}},
        axisLabel:{
            show:true,customValues:priceTicks,margin:8,hideOverlap:false,padding:[2,0,0,0],
            fontFamily:labelFont,fontSize:18,color:'#000',
            formatter:function(v){return v.toFixed(1)}
        },
        splitLine:{show:true,lineStyle:{color:'#bdbdbd',type:[4,4],width:1}}
    },
    graphic:[
        {type:'rect',z:100,shape:{x:0,y:0,width:3840,height:2},style:{fill:'#8c8c8c'}},
        {type:'rect',z:100,shape:{x:0,y:0,width:2,height:1996},style:{fill:'#a0a0a0'}},
        {type:'rect',z:100,shape:{x:3838,y:0,width:2,height:1996},style:{fill:'#e6e6e6'}},
        {type:'rect',z:100,shape:{x:0,y:1994,width:3840,height:2},style:{fill:'#e6e6e6'}},
        {type:'polygon',z:100,shape:{points:[[9,15],[21,15],[15,22]]},style:{fill:'#000'}},
        {type:'polygon',z:100,shape:{points:[[158.5,975.5],[182.5,999],[171.5,1000],[176,1010.5],[170.5,1012.5],[165.5,1001.5],[158.5,1008.5]]},style:{fill:'#fff',stroke:'#000',lineWidth:1}}
    ],
    series:[
        ...levelSeries,
        {
            type:'line',data:[[xMin,lastPrice],[xMax,lastPrice]],symbol:'none',z:2,silent:true,
            lineStyle:{color:'#c0c0c0',width:1}
        },
        {
            type:'line',data:[[xMin,targetLevel],[xMax,targetLevel]],symbol:'none',z:2,silent:true,
            lineStyle:{color:'#FF0000',width:1}
        },
        {
            type:'scatter',data:targetMarks,symbol:'rect',symbolSize:5,z:3,silent:true,
            itemStyle:{color:'#fff',borderColor:'#FF0000',borderWidth:1}
        },
        {
            type:'candlestick',layout:'horizontal',data:candles,barWidth:2,z:3,silent:true,large:false,
            encode:{x:0,y:[1,2,3,4]},
            itemStyle:{color:'#fff',color0:'#000',borderColor:'#000',borderColor0:'#000',borderWidth:1}
        },
        {
            // level names sit just under their line
            type:'custom',data:levelPrices.map((p,i) => [657.4,p,i]),z:4,silent:true,clip:false,
            encode:{x:0,y:1},
            renderItem(params,api){
                let pt=api.coord([api.value(0),api.value(1)])
                let i=api.value(2)
                return {
                    type:'text',x:pt[0],y:pt[1]+11.5,
                    style:{text:levelNames[i],fill:levelColors[i],font:'21px "Liberation Sans"',textAlign:'center',textVerticalAlign:'middle'}
                }
            }
        },
        arc(arcTop),arc(arcInnerLow),arc(arcInnerHigh),arc(arcBottom),
        straight(blueDown1,'#4A5FF2'),
        straight(blueDown2,'#4A5FF2'),
        straight(greenUp1,'#0FAE8C'),
        straight(greenUp2,'#0FAE8C'),
        straight(redSolid,'#FF4444'),
        straight(redDash1,'#FF4444',true),
        straight(redDash2,'#FF4444',true),
        heads(redHeads,'#FF4444',24,22),
        heads(orangeHeads,'#FFAB00',13,11),
        {
            // price tags in the right gutter
            type:'custom',z:10,silent:true,clip:false,
            data:levelPrices.map((p,i) => [xMax,p,i]).concat([[xMax,targetLevel,-1],[xMax,lastPrice,-2]]),
            encode:{x:0,y:1},
            renderItem(params,api){
                let pt=api.coord([api.value(0),api.value(1)])
                let i=api.value(2)
                let color=i>=0?levelColors[i]:(i===-1?'#FF0000':'#000')
                let top=i===-2?pt[1]-10:pt[1]-6.5
                let h=i===-2?21:23
                return {
                    type:'group',
                    children:[
                        {type:'rect',shape:{x:pt[0]+1.5,y:top,width:70,height:h},style:{fill:color}},
                        {type:'text',x:pt[0]+36.5,y:top+h/2+0.5,style:{text:api.value(1).toFixed(1),fill:'#fff',font:'18px "Noto Sans"',textAlign:'center',textVerticalAlign:'middle'}}
                    ]
                }
            }
        }
    ]
}

var chart = echarts.init(document.getElementById('chart'),null,{renderer:'canvas',width:3840,height:1996})
chart.setOption(option)
</script>
</body>
</html>
